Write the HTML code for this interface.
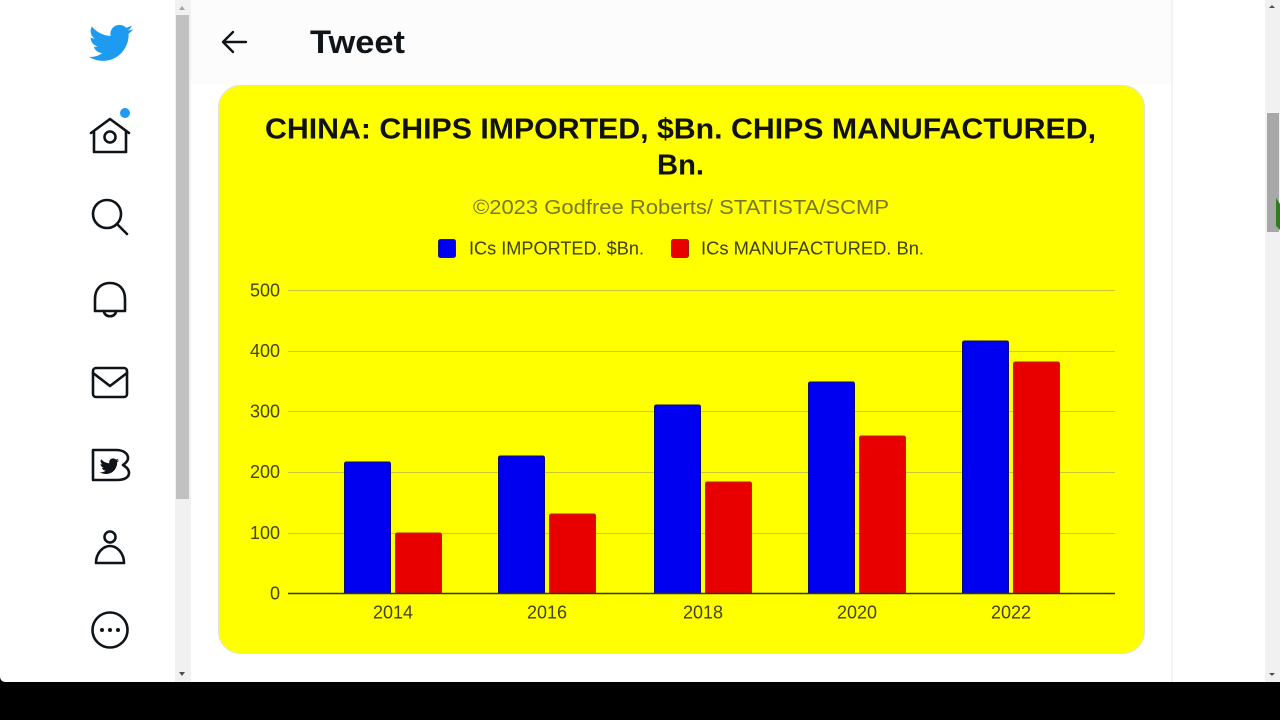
<!DOCTYPE html>
<html><head><meta charset="utf-8"><style>
html,body{margin:0;padding:0;width:1280px;height:720px;overflow:hidden;background:#fff;}
svg{display:block;font-family:"Liberation Sans",Arial,sans-serif;}
</style></head><body>
<svg width="1280" height="720" viewBox="0 0 1280 720" xmlns="http://www.w3.org/2000/svg">
  <!-- page background -->
  <rect x="0" y="0" width="1280" height="720" fill="#ffffff"/>
  <!-- header subtle bg -->
  <rect x="191" y="0" width="981" height="84" fill="#fcfcfc"/>
  <!-- divider -->
  <rect x="1171" y="0" width="2" height="682" fill="#f1f3f4"/>

  <!-- left scrollbar -->
  <rect x="175" y="0" width="16" height="682" fill="#f1f1f1"/>
  <rect x="176" y="15" width="13" height="484" fill="#c1c1c1"/>
  <path d="M179,10 L182,6 L185,10 Z" fill="#a3a3a3"/>
  <path d="M179,672 L182,676 L185,672 Z" fill="#505050"/>

  <!-- right scrollbar -->
  <rect x="1265" y="0" width="15" height="682" fill="#f1f1f1"/>
  <rect x="1267" y="113" width="12" height="119" fill="#a8a8a8"/>
  <path d="M1269,8 L1272,5 L1275,8 Z" fill="#505050"/>
  <path d="M1269,673 L1272,676 L1275,673 Z" fill="#505050"/>
  <path d="M1276,198 L1280,204 L1280,230 L1276,226 Z" fill="#2e7d1e"/>

  <!-- sidebar icons -->
  <g transform="translate(87,19.5) scale(1.95)">
    <path fill="#1d9bf0" d="M23.643 4.937c-.835.37-1.732.62-2.675.733.962-.576 1.7-1.49 2.048-2.578-.9.534-1.897.922-2.958 1.13-.85-.904-2.06-1.47-3.4-1.47-2.572 0-4.658 2.086-4.658 4.66 0 .364.042.718.12 1.06-3.873-.195-7.304-2.05-9.602-4.868-.4.69-.63 1.49-.63 2.342 0 1.616.823 3.043 2.072 3.878-.764-.025-1.482-.234-2.11-.583v.06c0 2.257 1.605 4.14 3.737 4.568-.392.106-.803.162-1.227.162-.3 0-.593-.028-.877-.082.593 1.85 2.313 3.198 4.352 3.234-1.595 1.25-3.604 1.995-5.786 1.995-.376 0-.747-.022-1.112-.065 2.062 1.323 4.51 2.093 7.14 2.093 8.57 0 13.255-7.098 13.255-13.254 0-.2-.005-.402-.014-.602.91-.658 1.7-1.477 2.323-2.41z"/>
  </g>
  <g fill="none" stroke="#0f1419" stroke-width="2.6" stroke-linejoin="round" stroke-linecap="round">
    <!-- home -->
    <path d="M91,133 L110,119 L129,133 M94,131 L94,152 L126,152 L126,131"/>
    <circle cx="110" cy="137" r="5.5"/>
    <!-- search -->
    <circle cx="107" cy="214" r="14"/>
    <path d="M117,224 L127,234"/>
    <!-- bell -->
    <path d="M95,311 L95,299 C95,289 101,283 110,283 C119,283 125,289 125,299 L125,311 Z"/>
    <path d="M104,311 C104,318 116,318 116,311"/>
    <!-- mail -->
    <rect x="93" y="368" width="34" height="29" rx="3"/>
    <path d="M93,373 L110,386 L127,373"/>
    <!-- twitter blue box -->
    <path d="M93,450 L116,450 C124,450 128,454 128,458 C128,461 126,463 123,465 C126,467 129,469 129,473 C129,477 125,480 117,480 L93,480 Z"/>
    <!-- person -->
    <circle cx="110" cy="537" r="5.5"/>
    <path d="M96,563 C96,553 103,546 110,546 C117,546 124,553 124,563 Z"/>
    <!-- more -->
    <circle cx="110" cy="630" r="17.5"/>
  </g>
  <path fill="#0f1419" transform="translate(99,456) scale(0.85)" d="M23.643 4.937c-.835.37-1.732.62-2.675.733.962-.576 1.7-1.49 2.048-2.578-.9.534-1.897.922-2.958 1.13-.85-.904-2.06-1.47-3.4-1.47-2.572 0-4.658 2.086-4.658 4.66 0 .364.042.718.12 1.06-3.873-.195-7.304-2.05-9.602-4.868-.4.69-.63 1.49-.63 2.342 0 1.616.823 3.043 2.072 3.878-.764-.025-1.482-.234-2.11-.583v.06c0 2.257 1.605 4.14 3.737 4.568-.392.106-.803.162-1.227.162-.3 0-.593-.028-.877-.082.593 1.85 2.313 3.198 4.352 3.234-1.595 1.25-3.604 1.995-5.786 1.995-.376 0-.747-.022-1.112-.065 2.062 1.323 4.51 2.093 7.14 2.093 8.57 0 13.255-7.098 13.255-13.254 0-.2-.005-.402-.014-.602.91-.658 1.7-1.477 2.323-2.41z"/>
  <circle cx="125" cy="113" r="5" fill="#1d9bf0"/>
  <g fill="#0f1419">
    <circle cx="102" cy="630" r="2"/>
    <circle cx="110" cy="630" r="2"/>
    <circle cx="118" cy="630" r="2"/>
  </g>

  <!-- header -->
  <g fill="none" stroke="#0f1419" stroke-width="2.4" stroke-linecap="round" stroke-linejoin="round">
    <path d="M223,42 L246,42 M233,32 L223,42 L233,52"/>
  </g>
  <text x="310" y="53" font-size="32" font-weight="bold" fill="#0f1419" textLength="95" lengthAdjust="spacingAndGlyphs">Tweet</text>

  <!-- chart card -->
  <rect x="218.5" y="85.5" width="926" height="568" rx="22" ry="22" fill="#ffff00" stroke="#e4e4c8" stroke-width="1"/>

  <!-- title -->
  <text x="265" y="138.5" font-size="29" font-weight="bold" fill="#111" textLength="831" lengthAdjust="spacingAndGlyphs">CHINA: CHIPS IMPORTED, $Bn. CHIPS MANUFACTURED,</text>
  <text x="657" y="174.5" font-size="29" font-weight="bold" fill="#111" textLength="47" lengthAdjust="spacingAndGlyphs">Bn.</text>
  <text x="473" y="214" font-size="20" fill="#77772c" textLength="416" lengthAdjust="spacingAndGlyphs">©2023 Godfree Roberts/ STATISTA/SCMP</text>

  <!-- legend -->
  <rect x="438.5" y="239.5" width="17" height="18" rx="2" fill="#0000f0" stroke="#1a1a80" stroke-width="1"/>
  <text x="469" y="254.5" font-size="18" fill="#3f3f12" textLength="175" lengthAdjust="spacingAndGlyphs">ICs IMPORTED. $Bn.</text>
  <rect x="671.5" y="239.5" width="17" height="18" rx="2" fill="#e80000" stroke="#a02010" stroke-width="1"/>
  <text x="701" y="254.5" font-size="18" fill="#3f3f12" textLength="223" lengthAdjust="spacingAndGlyphs">ICs MANUFACTURED. Bn.</text>

  <!-- gridlines -->
  <g stroke="#c6cb33" stroke-width="1">
    <line x1="288" y1="290.5" x2="1115" y2="290.5"/>
    <line x1="288" y1="351.5" x2="1115" y2="351.5"/>
    <line x1="288" y1="411.5" x2="1115" y2="411.5"/>
    <line x1="288" y1="472.5" x2="1115" y2="472.5"/>
    <line x1="288" y1="533.5" x2="1115" y2="533.5"/>
  </g>

  <!-- y labels -->
  <g font-size="18" fill="#44440f" text-anchor="end">
    <text x="280" y="296.5">500</text>
    <text x="280" y="357">400</text>
    <text x="280" y="417.5">300</text>
    <text x="280" y="478">200</text>
    <text x="280" y="539">100</text>
    <text x="280" y="599.5">0</text>
  </g>

  <!-- bars -->
  <g stroke-width="1">
    <g fill="#0000f0" stroke="#0a0a7a">
      <path d="M344.5,593 L344.5,464 Q344.5,462 346.5,462 L388.5,462 Q390.5,462 390.5,464 L390.5,593 Z"/>
      <path d="M498.5,593 L498.5,458 Q498.5,456 500.5,456 L542.5,456 Q544.5,456 544.5,458 L544.5,593 Z"/>
      <path d="M654.5,593 L654.5,407 Q654.5,405 656.5,405 L698.5,405 Q700.5,405 700.5,407 L700.5,593 Z"/>
      <path d="M808.5,593 L808.5,384 Q808.5,382 810.5,382 L852.5,382 Q854.5,382 854.5,384 L854.5,593 Z"/>
      <path d="M962.5,593 L962.5,343 Q962.5,341 964.5,341 L1006.5,341 Q1008.5,341 1008.5,343 L1008.5,593 Z"/>
    </g>
    <g fill="#e80000" stroke="#b8200a">
      <path d="M395.5,593 L395.5,535 Q395.5,533 397.5,533 L439.5,533 Q441.5,533 441.5,535 L441.5,593 Z"/>
      <path d="M549.5,593 L549.5,516 Q549.5,514 551.5,514 L593.5,514 Q595.5,514 595.5,516 L595.5,593 Z"/>
      <path d="M705.5,593 L705.5,484 Q705.5,482 707.5,482 L749.5,482 Q751.5,482 751.5,484 L751.5,593 Z"/>
      <path d="M859.5,593 L859.5,438 Q859.5,436 861.5,436 L903.5,436 Q905.5,436 905.5,438 L905.5,593 Z"/>
      <path d="M1013.5,593 L1013.5,364 Q1013.5,362 1015.5,362 L1057.5,362 Q1059.5,362 1059.5,364 L1059.5,593 Z"/>
    </g>
  </g>

  <!-- axis -->
  <line x1="288" y1="593.5" x2="1115" y2="593.5" stroke="#333318" stroke-width="1.6"/>

  <!-- x labels -->
  <g font-size="18" fill="#44440f" text-anchor="middle">
    <text x="393" y="618.5">2014</text>
    <text x="547" y="618.5">2016</text>
    <text x="703" y="618.5">2018</text>
    <text x="857" y="618.5">2020</text>
    <text x="1011" y="618.5">2022</text>
  </g>

  <!-- bottom black bar -->
  <rect x="0" y="682" width="1280" height="38" fill="#000"/>
  <path d="M0,676 Q0,682 6,682 L0,682 Z" fill="#000"/>
</svg>
</body></html>
